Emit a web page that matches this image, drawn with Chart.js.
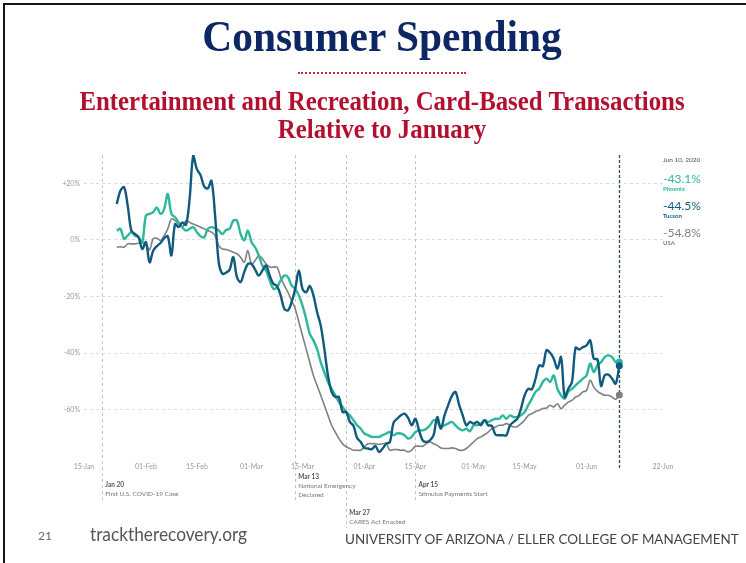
<!DOCTYPE html>
<html>
<head>
<meta charset="utf-8">
<script src="https://cdn.jsdelivr.net/npm/chart.js@4.4.1/dist/chart.umd.min.js"></script>
<style>
    html, body { margin: 0; padding: 0; background: #fff; }
    body { width: 746px; height: 563px; position: relative; overflow: hidden; }
    #frame { position: absolute; left: 3px; top: 3px; width: 800px; height: 600px; border-left: 2px solid #151515; border-top: 2px solid #151515; }
    #chart { position: absolute; left: 0; top: 0; }
    .head { position: absolute; left: 9px; width: 746px; text-align: center; font-family: "Liberation Serif", "Times New Roman", serif; font-weight: bold; transform: scaleX(0.92); transform-origin: 373px 0; white-space: nowrap; }
    #title { top: 14px; font-size: 45px; line-height: 45px; color: #0c2764; }
    #subtitle { top: 87px; font-size: 27px; line-height: 28px; color: #b3102f; }
    #rule { position: absolute; left: 298px; top: 72px; width: 168px; border-top: 2px dotted #c8283f; }
    #page { position: absolute; left: 38px; top: 528px; font-family: Lato, sans-serif; font-size: 12px; color: #666; }
    #site { position: absolute; left: 90px; top: 522px; font-family: Lato, sans-serif; font-size: 19px; color: #555; transform: scaleX(0.91); transform-origin: 0 0; white-space: nowrap; }
    #school { position: absolute; left: 345px; top: 530px; font-family: Lato, sans-serif; font-size: 14px; color: #444; transform: scaleX(0.96); transform-origin: 0 0; white-space: nowrap; }
</style>
</head>
<body>
<div id="frame"></div>
<canvas id="chart" width="746" height="563"></canvas>
<div class="head" id="title">Consumer Spending</div>
<div id="rule"></div>
<div class="head" id="subtitle">Entertainment and Recreation, Card-Based Transactions<br>Relative to January</div>
<div id="page">21</div>
<div id="site">tracktherecovery.org</div>
<div id="school">UNIVERSITY OF ARIZONA / ELLER COLLEGE OF MANAGEMENT</div>
<script>
// day of year 2020, first value is Jan 24, last is Jun 10
const firstDay = 24;

const tucson = [12.7, 17.4, 18.6, 12.1, 3.3, 2.1, 0.9, -3.2, -0.8, -7.9, -3.8, -2.2, -1.1, 0.6, 1.3, -5.5,
    5.6, 4.5, 6.2, 5.3, 14.5, 29.8, 25.0, 22.9, 18.9, 18.2, 20.9, 8.6, -7.9, -12.0, -11.6, -10.5, -6.1,
    -13.2, -14.9, -11.4, -8.5, -8.5, -10.5, -12.6, -10.8, -9.1, -12.6, -15.5, -16.3, -19.6, -24.3, -24.9,
    -22.0, -17.3, -10.8, -17.3, -18.5, -16.3, -19.6, -25.5, -30.2, -38.5, -47.9, -53.7, -55.5, -55.5,
    -60.8, -60.8, -64.3, -65.7, -70.0, -71.4, -73.5, -73.7, -74.0, -72.8, -74.9, -73.7, -72.0, -71.4,
    -64.6, -63.2, -62.0, -61.4, -62.9, -65.5, -63.2, -67.3, -70.8, -71.4, -70.8, -69.0, -62.6, -66.7,
    -62.0, -58.4, -55.2, -53.7, -58.2, -62.0, -65.5, -64.3, -64.9, -64.3, -65.5, -63.7, -65.5, -65.7,
    -68.8, -69.0, -69.0, -69.0, -65.5, -64.3, -63.2, -59.6, -54.9, -52.6, -52.8, -49.0, -44.3, -44.6,
    -39.0, -39.9, -42.0, -45.5, -41.4, -55.5, -52.6, -50.2, -38.1, -38.7, -37.9, -37.3, -35.5, -42.0,
    -42.2, -51.6, -47.9, -47.6, -49.0, -50.8, -44.5];

const phoenix = [3.3, 3.9, 0.4, 1.5, 2.7, 1.5, 0.9, -0.8, 8.6, 9.2, 9.8, 11.5, 9.2, 10.9, 16.2, 9.2,
    8.0, 6.2, 4.5, 3.3, 3.9, 4.5, 2.7, 1.3, 0.9, 3.9, 4.5, 4.1, 3.3, 2.1, 3.5, 3.9, 6.8, 6.8, 2.1, -0.2,
    3.3, -0.8, -2.6, -5.5, -9.1, -10.8, -14.3, -17.3, -16.7, -14.3, -12.6, -13.2, -16.1, -17.3, -19.6,
    -23.2, -27.9, -33.2, -35.5, -38.5, -43.2, -46.7, -50.2, -52.6, -54.9, -57.3, -59.0, -60.8, -62.0,
    -63.7, -65.5, -66.7, -68.4, -69.0, -69.6, -69.6, -69.6, -69.0, -68.4, -67.9, -69.0, -68.4, -68.4,
    -69.0, -70.2, -69.6, -67.9, -67.3, -67.3, -66.7, -65.5, -63.7, -64.3, -66.1, -65.5, -64.9, -64.3,
    -65.5, -66.7, -67.3, -66.7, -67.6, -65.5, -65.5, -64.9, -63.7, -64.3, -63.7, -63.2, -63.2, -62.0,
    -63.2, -62.0, -62.6, -62.6, -62.0, -60.8, -58.4, -56.1, -53.7, -52.6, -50.2, -49.0, -50.2, -47.9,
    -52.6, -54.9, -56.1, -53.7, -52.6, -51.4, -50.2, -49.0, -47.9, -43.7, -46.7, -44.3, -43.2, -41.4,
    -40.8, -41.4, -43.2, -43.1];

const usa = [-2.6, -2.4, -2.6, -1.4, -1.4, -1.4, -1.2, -1.1, -1.4, -3.5, 0.4, 0.6, -0.2, 1.5, 3.9, 7.4,
    6.8, 5.6, 4.5, 6.8, 6.2, 5.6, 5.1, 4.5, 3.9, 3.3, 2.7, 1.5, -2.0, -3.2, -3.4, -3.8, -4.4, -4.9, -6.1,
    -7.9, -3.8, -8.5, -7.3, -5.5, -6.7, -8.5, -9.6, -9.6, -9.6, -13.2, -16.1, -18.5, -21.4, -24.3, -29.0,
    -33.8, -38.5, -43.2, -47.9, -51.4, -54.9, -58.4, -62.0, -65.5, -67.9, -70.2, -72.0, -73.1, -73.7,
    -74.3, -74.3, -74.3, -73.1, -72.0, -72.0, -72.0, -72.3, -72.0, -72.0, -74.3, -74.1, -74.1, -74.3,
    -74.3, -74.9, -74.3, -72.9, -72.9, -72.9, -72.0, -71.4, -72.0, -72.6, -73.5, -73.7, -73.7, -73.5,
    -73.7, -74.3, -74.3, -73.7, -72.6, -71.4, -70.2, -69.6, -68.8, -67.9, -66.7, -66.1, -65.5, -65.5,
    -64.9, -65.5, -66.1, -65.9, -64.9, -63.7, -62.0, -61.4, -60.6, -60.2, -59.6, -59.4, -58.4, -59.0,
    -57.9, -59.6, -58.4, -57.3, -56.7, -55.5, -54.9, -53.7, -53.2, -49.6, -52.0, -53.5, -54.3, -54.9,
    -54.9, -55.5, -56.3, -54.8];

const seriesNames = ["Phoenix", "Tucson", "USA"];
const lastValues = ["-43.1%", "-44.5%", "-54.8%"];
const lastDate = "Jun 10, 2020";
const lastDay = 162;

const tickDays = [15, 32, 46, 61, 75, 92, 106, 122, 136, 153, 174];
const tickLabels = ["15-Jan", "01-Feb", "15-Feb", "01-Mar", "15-Mar", "01-Apr", "15-Apr", "01-May", "15-May", "01-Jun", "22-Jun"];
const yTicks = [-60, -40, -20, 0, 20];

const eventDays = [20, 73, 87, 106];
const eventTitles = ["Jan 20", "Mar 13", "Mar 27", "Apr 15"];
const eventNotes = [["First U.S. COVID-19 Case"], ["National Emergency", "Declared"], ["CARES Act Enacted"], ["Stimulus Payments Start"]];

const colTucson = "#0f5a7d";
const colPhoenix = "#2db79b";
const colUsa = "#808080";

function toPoints(arr) {
    return arr.map((v, i) => ({ x: firstDay + i, y: v }));
}

function lastDot(r) {
    return ctx => ctx.dataIndex === ctx.dataset.data.length - 1 ? r : 0;
}

let eventsPlugin = {
    id: "events",
    beforeDatasetsDraw(chart) {
        let c = chart.ctx;
        let x = chart.scales.x;
        let top = chart.chartArea.top;
        let ends = [500, 500, 528, 500];
        c.save();
        c.strokeStyle = "#c4c4c4";
        c.lineWidth = 1;
        c.setLineDash([3, 3]);
        eventDays.forEach((d, i) => {
            let px = Math.round(x.getPixelForValue(d)) + 0.5;
            c.beginPath();
            c.moveTo(px, top);
            c.lineTo(px, ends[i]);
            c.stroke();
        });
        let jx = Math.round(x.getPixelForValue(lastDay)) + 0.5;
        c.strokeStyle = "#2b4a5c";
        c.lineWidth = 1.3;
        c.setLineDash([3, 2]);
        c.beginPath();
        c.moveTo(jx, top);
        c.lineTo(jx, 470);
        c.stroke();
        c.restore();
    },
    afterDraw(chart) {
        let c = chart.ctx;
        let x = chart.scales.x;
        let titleY = [485, 477, 513, 485];
        c.save();
        c.textBaseline = "middle";
        c.textAlign = "left";
        eventDays.forEach((d, i) => {
            let px = x.getPixelForValue(d) + 3;
            c.font = "bold 6.5px Lato, sans-serif";
            c.fillStyle = "#555";
            c.fillText(eventTitles[i], px, titleY[i]);
            c.font = "6.5px Lato, sans-serif";
            c.fillStyle = "#777";
            eventNotes[i].forEach((t, k) => c.fillText(t, px, titleY[i] + 9 + k * 8.5));
        });

        let rx = chart.chartArea.right;
        c.font = "6.5px Lato, sans-serif";
        c.fillStyle = "#41545f";
        c.fillText(lastDate, rx, 160);
        let cols = [colPhoenix, colTucson, colUsa];
        let ys = [179, 206, 233];
        cols.forEach((col, i) => {
            c.fillStyle = col;
            c.font = "12px Lato, sans-serif";
            c.fillText(lastValues[i], rx, ys[i]);
            c.font = "bold 6px Lato, sans-serif";
            c.fillText(seriesNames[i], rx, ys[i] + 10);
        });
        c.restore();
    }
};

let context = document.getElementById("chart").getContext("2d");

let chart = new Chart(context, {
    type: "line",
    data: {
        datasets: [
            { label: "Tucson", data: toPoints(tucson), borderColor: colTucson, backgroundColor: colTucson, borderWidth: 2.4, tension: 0.35, pointRadius: lastDot(3.5), pointBorderWidth: 0 },
            { label: "Phoenix", data: toPoints(phoenix), borderColor: colPhoenix, backgroundColor: colPhoenix, borderWidth: 2.4, tension: 0.35, pointRadius: lastDot(3.5), pointBorderWidth: 0 },
            { label: "USA", data: toPoints(usa), borderColor: colUsa, backgroundColor: colUsa, borderWidth: 1.6, tension: 0.35, pointRadius: lastDot(3.5), pointBorderWidth: 0 }
        ]
    },
    options: {
        responsive: false,
        animation: false,
        layout: { padding: { left: 50, top: 155, right: 83, bottom: 78 } },
        plugins: { legend: { display: false }, tooltip: { enabled: false } },
        scales: {
            x: {
                type: "linear",
                min: 15,
                max: 174,
                afterBuildTicks: scale => { scale.ticks = tickDays.map(v => ({ value: v })); },
                afterFit: scale => { scale.height = 30; },
                grid: { display: false, drawTicks: false },
                border: { display: false },
                ticks: {
                    autoSkip: false,
                    maxRotation: 0,
                    padding: 8,
                    color: "#999",
                    font: { family: "Lato", size: 7 },
                    callback: v => tickLabels[tickDays.indexOf(v)]
                }
            },
            y: {
                min: -76,
                max: 30,
                afterBuildTicks: scale => { scale.ticks = yTicks.map(v => ({ value: v })); },
                afterFit: scale => { scale.width = 34; },
                grid: { color: "#dcdcdc", drawTicks: false, tickBorderDash: [3, 3] },
                border: { display: false, dash: [3, 3] },
                ticks: {
                    padding: 4,
                    color: "#999",
                    font: { family: "Lato", size: 7 },
                    callback: v => (v > 0 ? "+" : "") + v + "%"
                }
            }
        }
    },
    plugins: [eventsPlugin]
});
</script>
</body>
</html>
